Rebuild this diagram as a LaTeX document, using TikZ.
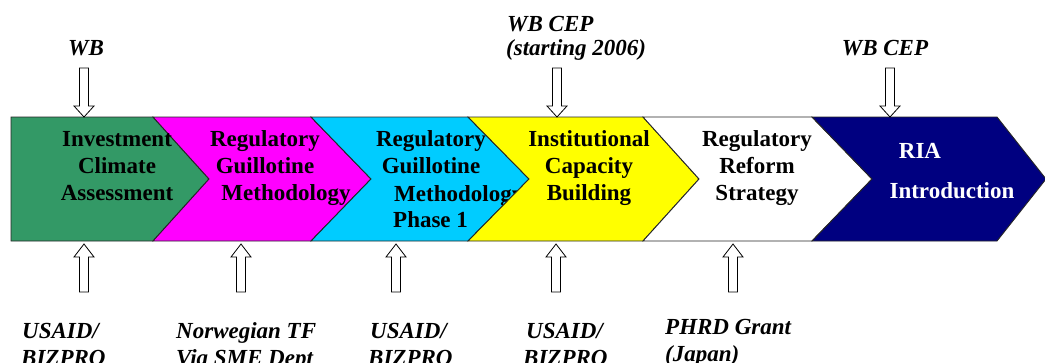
\documentclass[tikz,border=0pt]{standalone}
\usepackage{fontspec}
\setmainfont{Liberation Serif}
\begin{document}
\begin{tikzpicture}[x=1pt,y=-1pt,
  chev/.style={draw=black!85,line width=0.9pt,line join=miter},
  btxt/.style={font=\fontsize{23}{27}\selectfont\bfseries,inner sep=0pt,anchor=base,text=black},
  ltxt/.style={font=\fontsize{23}{27}\selectfont\bfseries\itshape,inner sep=0pt,anchor=base west,text=black},
  ctxt/.style={font=\fontsize{23}{27}\selectfont\bfseries\itshape,inner sep=0pt,anchor=base,text=black},
  hollow/.style={draw=black,fill=white,line width=0.8pt,line join=miter},
  downarr/.pic={\draw[hollow] (-4.5,-49)--(4.5,-49)--(4.5,-11)--(10,-11)--(0,0)--(-10,-11)--(-4.5,-11)--cycle;},
  uparr/.pic={\draw[hollow] (-4.5,48)--(4.5,48)--(4.5,13)--(10,13)--(0,0)--(-10,13)--(-4.5,13)--cycle;}
]
\useasboundingbox (0,0) rectangle (1045,362);
\clip (0,0) rectangle (1045,362);
\definecolor{cgreen}{RGB}{51,153,102}
\definecolor{cmag}{RGB}{255,0,255}
\definecolor{ccyan}{RGB}{0,204,255}
\definecolor{cyel}{RGB}{255,255,0}
\definecolor{cnavy}{RGB}{0,0,128}

% chevrons
\draw[chev,fill=cgreen] (11,117)--(153,117)--(209,179)--(153,241)--(11,241)--cycle;
\draw[chev,fill=cmag] (153,117)--(311,117)--(371,179)--(311,241)--(153,241)--(209,179)--cycle;
\node[btxt] (g1) at (117,146) {Investment};
\node[btxt] (g2) at (117,173) {Climate};
\node[btxt] (g3) at (117,200) {Assessment};
\node[btxt] (m1) at (265,146) {Regulatory};
\node[btxt] (m2) at (265,173) {Guillotine};
\node[btxt] (m3) at (286,200) {Methodology};

\draw[chev,fill=ccyan] (311,117)--(468,117)--(529,179)--(468,241)--(311,241)--(371,179)--cycle;
\node[btxt] (c1) at (431,146) {Regulatory};
\node[btxt] (c2) at (431,173) {Guillotine};
\node[btxt,anchor=base west] (c3) at (394,201) {Methodology};
\node[btxt,anchor=base west] (c4) at (393,227) {Phase 1};

\draw[chev,fill=cyel] (468,117)--(643,117)--(699,179)--(643,241)--(468,241)--(529,179)--cycle;
\node[btxt] (y1) at (589,146) {Institutional};
\node[btxt] (y2) at (589,173) {Capacity};
\node[btxt] (y3) at (589,200) {Building};

\draw[chev,fill=white] (643,117)--(812,117)--(872,179)--(812,241)--(643,241)--(699,179)--cycle;
\node[btxt] (w1) at (757,146) {Regulatory};
\node[btxt] (w2) at (757,173) {Reform};
\node[btxt] (w3) at (757,200) {Strategy};

\draw[chev,fill=cnavy] (812,117)--(997,117)--(1046,179)--(997,241)--(812,241)--(872,179)--cycle;
\node[btxt,text=white] (n1) at (920,158) {RIA};
\node[btxt,text=white] (n2) at (952,198) {Introduction};

% top labels and arrows
\node[ctxt] (t1) at (86,55) {WB};
\node[ltxt] (t2) at (507,31) {WB CEP};
\node[ltxt] (t3) at (506,55) {(starting 2006)};
\node[ctxt] (t4) at (885,55) {WB CEP};
\pic at (84,117) {downarr};
\pic at (557,117) {downarr};
\pic at (890,117) {downarr};

% bottom arrows
\pic at (84,244) {uparr};
\pic at (241,244) {uparr};
\pic at (396,244) {uparr};
\pic at (556,244) {uparr};
\pic at (733,244) {uparr};

% bottom labels
\node[ltxt] (b1a) at (22,338) {USAID/};
\node[ltxt] (b1b) at (21,365) {BIZPRO};
\node[ltxt] (b2a) at (176,338) {Norwegian TF};
\node[ltxt] (b2b) at (176,365) {Via SME Dept};
\node[ltxt] (b3a) at (370,338) {USAID/};
\node[ltxt] (b3b) at (368,365) {BIZPRO};
\node[ltxt] (b4a) at (526,338) {USAID/};
\node[ltxt] (b4b) at (523,365) {BIZPRO};
\node[ltxt] (b5a) at (665,334) {PHRD Grant};
\node[ltxt] (b5b) at (665,361) {(Japan)};
\end{tikzpicture}
\end{document}
